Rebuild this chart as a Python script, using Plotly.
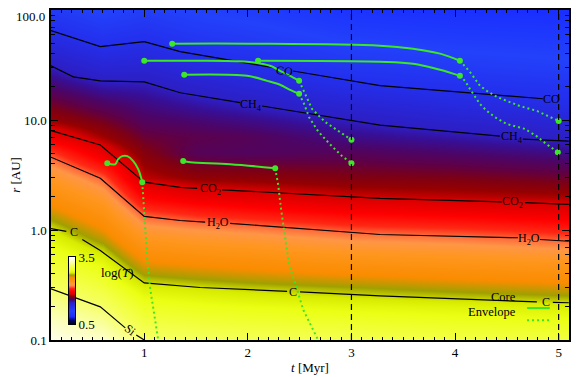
import math
import plotly.graph_objects as go

# ---- temperature map: log10(T) on a coarse (t, r) grid ----
grid_t = [0.1, 0.6, 1.0, 1.5, 2.0, 3.0, 4.0, 5.1]
grid_r = [0.1, 0.15, 0.2, 0.3, 0.5, 0.7, 1.0, 1.5, 2.0, 3.0, 5.0, 7.0, 10, 15, 20, 30, 50, 100]
log_temp = [
    [3.44, 3.35, 3.15, 3.12, 3.10, 3.08, 3.05, 3.03],
    [3.33, 3.23, 3.03, 3.00, 2.98, 2.96, 2.93, 2.91],
    [3.25, 3.14, 2.95, 2.92, 2.90, 2.87, 2.85, 2.83],
    [3.14, 3.02, 2.83, 2.80, 2.77, 2.73, 2.69, 2.65],
    [3.00, 2.87, 2.62, 2.58, 2.55, 2.49, 2.45, 2.41],
    [2.91, 2.75, 2.48, 2.43, 2.40, 2.33, 2.30, 2.25],
    [2.81, 2.61, 2.32, 2.27, 2.24, 2.17, 2.14, 2.09],
    [2.65, 2.46, 2.14, 2.08, 2.04, 1.98, 1.95, 1.91],
    [2.53, 2.34, 2.00, 1.93, 1.90, 1.85, 1.83, 1.81],
    [2.37, 2.18, 1.83, 1.78, 1.77, 1.74, 1.73, 1.70],
    [2.15, 1.92, 1.75, 1.64, 1.63, 1.64, 1.61, 1.57],
    [1.94, 1.80, 1.69, 1.66, 1.64, 1.57, 1.53, 1.48],
    [1.79, 1.71, 1.63, 1.60, 1.57, 1.50, 1.44, 1.40],
    [1.69, 1.61, 1.57, 1.52, 1.48, 1.40, 1.34, 1.30],
    [1.61, 1.53, 1.52, 1.46, 1.41, 1.32, 1.28, 1.24],
    [1.51, 1.42, 1.43, 1.36, 1.32, 1.22, 1.18, 1.14],
    [1.37, 1.28, 1.31, 1.24, 1.20, 1.10, 1.06, 1.03],
    [1.18, 1.08, 1.14, 1.08, 1.04, 0.93, 0.89, 0.87],
]
# colour bar end values
bar_levels = [0.5, 3.5]

# ---- ice lines (None leaves the gap where the label sits) ----
co_t = [0.1, 0.576, 1.0, 1.347, 2.264, None, 2.437, 3.276, 4.848]
co_r = [65.0, 46.5, 51.5, 41.8, 29.7, None, 27.9, 20.5, 15.6]
ch4_t = [0.1, 0.315, 0.576, 1.0, 1.347, 1.926, None, 2.138, 3.276, 4.433, None, 4.655, 5.098]
ch4_r = [31.1, 24.7, 22.7, 22.2, 17.7, 14.4, None, 13.4, 9.0, 7.14, None, 6.70, 6.43]
co2_t = [0.1, 0.576, 1.0, 1.347, 1.511, None, 1.752, 3.276, 4.452, None, 4.674, 5.098]
co2_r = [8.0, 5.92, 2.72, 2.44, 2.39, None, 2.32, 1.94, 1.80, None, 1.77, 1.71]
h2o_t = [0.1, 0.576, 1.0, 1.347, 1.588, None, 1.829, 3.276, 4.607, None, 4.819, 5.098]
h2o_r = [4.59, 2.95, 1.33, 1.22, 1.18, None, 1.15, 0.91, 0.85, None, 0.82, 0.79]
c_t = [0.1, 0.248, None, 0.402, 0.576, 1.0, 1.540, 2.379, None, 2.504, 3.276, 4.790, None, 4.944, 5.098]
c_r = [1.03, 0.97, None, 0.82, 0.65, 0.33, 0.30, 0.277, None, 0.274, 0.252, 0.222, None, 0.220, 0.218]
si_t = [0.1, 0.576, 0.817, None, 0.923, 1.0]
si_r = [0.292, 0.200, 0.129, None, 0.111, 0.100]

# label text and where it sits (t, r)
label_text = ["CO", "CO", "CH<sub>4</sub>", "CH<sub>4</sub>", "CO<sub>2</sub>", "CO<sub>2</sub>",
              "H<sub>2</sub>O", "H<sub>2</sub>O", "C", "C", "C", "Si"]
label_t = [2.355, 4.935, 2.032, 4.549, 1.636, 4.558, 1.713, 4.712, 0.325, 2.437, 4.876, 0.865]
label_r = [28.0, 15.6, 13.7, 7.0, 2.34, 1.78, 1.15, 0.835, 0.95, 0.274, 0.222, 0.123]
label_angle = [8, 0, 0, 0, 0, 0, 0, 0, 0, 0, 0, 38]

# ---- planet tracks: core (solid) then envelope (dotted) ----
track1_core_t = [1.270, 2.022, 3.276, 3.594, 3.855, 4.047]
track1_core_r = [49.4, 49.4, 47.4, 44.5, 40.1, 34.6]
track1_env_t = [4.047, 4.095, 4.143, 4.192, 4.240, 4.307, 4.404, 4.500, 4.626, 4.790, 5.0]
track1_env_r = [34.6, 31.1, 27.4, 23.7, 20.5, 18.4, 16.2, 14.9, 13.4, 12.1, 9.8]

track2_core_t = [1.0, 1.347, 1.993, 2.215, 2.311, 2.408, 2.495]
track2_core_r = [34.6, 34.6, 33.9, 31.1, 28.0, 25.2, 22.7]
track2_env_t = [2.495, 2.553, 2.620, 2.746, 2.890, 3.0]
track2_env_r = [22.7, 17.3, 12.6, 9.6, 7.8, 6.6]

track3_core_t = [1.386, 1.993, 2.186, 2.311, 2.408, 2.495]
track3_core_r = [25.8, 25.2, 22.7, 20.9, 18.8, 17.3]
track3_env_t = [2.495, 2.543, 2.591, 2.678, 2.794, 2.909, 3.0]
track3_env_r = [17.3, 14.0, 10.6, 7.9, 6.0, 4.7, 4.05]

track4_core_t = [2.099, 3.276, 3.594, 3.855, 4.047]
track4_core_r = [34.6, 33.9, 32.5, 28.6, 25.2]
track4_env_t = [4.047, 4.095, 4.143, 4.192, 4.240, 4.307, 4.385, 4.500, 4.674, 4.790, 4.886, 4.992]
track4_env_r = [25.2, 22.7, 19.2, 16.2, 14.0, 12.1, 10.6, 9.2, 8.3, 7.1, 6.0, 5.1]

track5_core_t = [0.643, 0.720, 0.749, 0.788, 0.836, 0.894, 0.942, 0.981]
track5_core_r = [4.05, 3.96, 4.41, 4.69, 4.69, 4.23, 3.57, 2.72]
track5_env_t = [0.981, 0.990, 1.010, 1.029, 1.058, 1.097, 1.135]
track5_env_r = [2.72, 1.90, 1.01, 0.54, 0.29, 0.17, 0.10]

track6_core_t = [1.376, 1.444, 1.829, 2.264]
track6_core_r = [4.23, 4.13, 3.96, 3.65]
track6_env_t = [2.264, 2.292, 2.321, 2.360, 2.398, 2.456, 2.533, 2.678]
track6_env_r = [3.65, 2.61, 1.54, 0.82, 0.48, 0.33, 0.19, 0.10]

# envelope tracks that end inside the frame get a dot
env_end_t = [5.0, 3.0, 3.0, 4.992]
env_end_r = [9.8, 6.6, 4.05, 5.1]

green = "rgb(60,230,40)"
serif = "Liberation Serif"

colorscale = [
    [0.00, "rgb(0,0,0)"],
    [0.06, "rgb(0,0,110)"],
    [0.12, "rgb(25,45,255)"],
    [0.20, "rgb(35,65,250)"],
    [0.26, "rgb(35,48,238)"],
    [0.30, "rgb(40,38,215)"],
    [0.333, "rgb(45,30,195)"],
    [0.35, "rgb(55,15,150)"],
    [0.37, "rgb(75,5,105)"],
    [0.39, "rgb(95,0,70)"],
    [0.41, "rgb(125,0,20)"],
    [0.43, "rgb(150,0,0)"],
    [0.45, "rgb(215,0,0)"],
    [0.50, "rgb(255,0,0)"],
    [0.54, "rgb(255,40,20)"],
    [0.567, "rgb(255,110,60)"],
    [0.59, "rgb(255,150,70)"],
    [0.63, "rgb(255,150,30)"],
    [0.70, "rgb(250,140,0)"],
    [0.74, "rgb(160,160,0)"],
    [0.767, "rgb(215,235,0)"],
    [0.80, "rgb(235,255,20)"],
    [0.87, "rgb(245,255,90)"],
    [0.94, "rgb(252,255,190)"],
    [1.00, "rgb(255,255,255)"],
]

fig = go.Figure()

fig.add_trace(go.Heatmap(
    x=grid_t, y=grid_r, z=log_temp,
    zmin=0.5, zmax=3.5, zsmooth="best",
    colorscale=colorscale, showscale=False, hoverinfo="skip",
))

# small inset colour bar, drawn on its own axes so it does not push the margins
fig.add_trace(go.Heatmap(
    x=[0], y=bar_levels, z=[[v] for v in bar_levels],
    zmin=0.5, zmax=3.5, zsmooth="best",
    colorscale=colorscale, showscale=False, hoverinfo="skip",
    xaxis="x2", yaxis="y2",
))

# ice lines
for lt, lr in [(co_t, co_r), (ch4_t, ch4_r), (co2_t, co2_r), (h2o_t, h2o_r), (c_t, c_r), (si_t, si_r)]:
    fig.add_trace(go.Scatter(x=lt, y=lr, mode="lines", line=dict(color="black", width=1.2),
                             connectgaps=False, showlegend=False, hoverinfo="skip"))

# tracks
tracks = [
    (track1_core_t, track1_core_r, track1_env_t, track1_env_r),
    (track2_core_t, track2_core_r, track2_env_t, track2_env_r),
    (track3_core_t, track3_core_r, track3_env_t, track3_env_r),
    (track4_core_t, track4_core_r, track4_env_t, track4_env_r),
    (track5_core_t, track5_core_r, track5_env_t, track5_env_r),
    (track6_core_t, track6_core_r, track6_env_t, track6_env_r),
]
for ct, cr, et, er in tracks:
    fig.add_trace(go.Scatter(x=et, y=er, mode="lines",
                             line=dict(color=green, width=2, dash="2px,3px"),
                             showlegend=False, hoverinfo="skip"))
    fig.add_trace(go.Scatter(x=ct, y=cr, mode="lines", line=dict(color=green, width=2, shape="spline"),
                             showlegend=False, hoverinfo="skip"))
    fig.add_trace(go.Scatter(x=[ct[0], ct[-1]], y=[cr[0], cr[-1]], mode="markers",
                             marker=dict(color=green, size=6), showlegend=False, hoverinfo="skip"))

fig.add_trace(go.Scatter(x=env_end_t, y=env_end_r, mode="markers",
                         marker=dict(color=green, size=6), showlegend=False, hoverinfo="skip"))

# dashed epochs
for tv in [3, 5]:
    fig.add_vline(x=tv, line=dict(color="black", width=1.2, dash="6px,4px"))

# contour labels
for txt, lt, lr, ang in zip(label_text, label_t, label_r, label_angle):
    fig.add_annotation(x=lt, y=math.log10(lr), text=txt, showarrow=False, textangle=ang,
                       font=dict(family=serif, size=12, color="black"))

# top y tick label sits at the very top edge, so it is placed by hand to stay on the page
fig.add_annotation(x=-0.008, y=1.0, xref="paper", yref="paper", text="100.0",
                   xanchor="right", yanchor="top", yshift=3, showarrow=False,
                   font=dict(family=serif, size=13, color="black"))

# colour bar caption and legend
fig.add_annotation(x=0.093, y=0.175, xref="paper", yref="paper", text="log(<i>T</i>)",
                   showarrow=False, font=dict(family=serif, size=13, color="black"))
fig.add_annotation(x=0.902, y=0.102, xref="paper", yref="paper", text="Core", xanchor="right",
                   showarrow=False, font=dict(family=serif, size=12.5, color="black"))
fig.add_annotation(x=0.902, y=0.059, xref="paper", yref="paper", text="Envelope", xanchor="right",
                   showarrow=False, font=dict(family=serif, size=12.5, color="black"))
fig.add_shape(type="line", xref="paper", yref="paper", x0=0.919, x1=0.963, y0=0.097, y1=0.097,
              line=dict(color=green, width=2))
fig.add_shape(type="line", xref="paper", yref="paper", x0=0.919, x1=0.963, y0=0.06, y1=0.06,
              line=dict(color=green, width=2, dash="2px,3px"))

axis_common = dict(
    showline=True, linecolor="black", linewidth=1.5, mirror="allticks",
    ticks="inside", tickcolor="black", tickwidth=1, ticklen=7,
    showgrid=False, zeroline=False, automargin=False,
    tickfont=dict(family=serif, size=13, color="black"),
)

# the page adds an 8px body margin, so the figure is sized to fill the rest
fig.update_layout(
    width=573, height=369,
    margin=dict(l=43, r=12, t=2, b=37),
    paper_bgcolor="white", plot_bgcolor="white",
    showlegend=False,
    xaxis=dict(
        range=[0.1, 5.1], tickvals=[1, 2, 3, 4, 5],
        minor=dict(ticks="inside", ticklen=3.5, dtick=0.1, tickcolor="black", showgrid=False),
        title=dict(text="<i>t</i> [Myr]", font=dict(family=serif, size=13, color="black"), standoff=4),
        **axis_common,
    ),
    yaxis=dict(
        type="log", range=[-1, 2],
        tickvals=[0.1, 1, 10, 100], ticktext=["0.1", "1.0", "10.0", ""],
        minor=dict(ticks="inside", ticklen=4, dtick="D1", tickcolor="black", showgrid=False),
        title=dict(text="<i>r</i> [AU]", font=dict(family=serif, size=13, color="black"), standoff=6),
        **axis_common,
    ),
    xaxis2=dict(domain=[0.0347, 0.0463], anchor="y2", range=[-0.5, 0.5],
                showticklabels=False, ticks="", showgrid=False, zeroline=False,
                showline=True, linecolor="black", linewidth=1, mirror=True, automargin=False),
    yaxis2=dict(domain=[0.0485, 0.2515], anchor="x2", range=[0.5, 3.5], side="right",
                tickvals=bar_levels, ticktext=["0.5", "3.5"], ticks="",
                showgrid=False, zeroline=False, showline=True, linecolor="black", linewidth=1,
                mirror=True, automargin=False,
                tickfont=dict(family=serif, size=13, color="black")),
)

fig.write_html("out.html")
